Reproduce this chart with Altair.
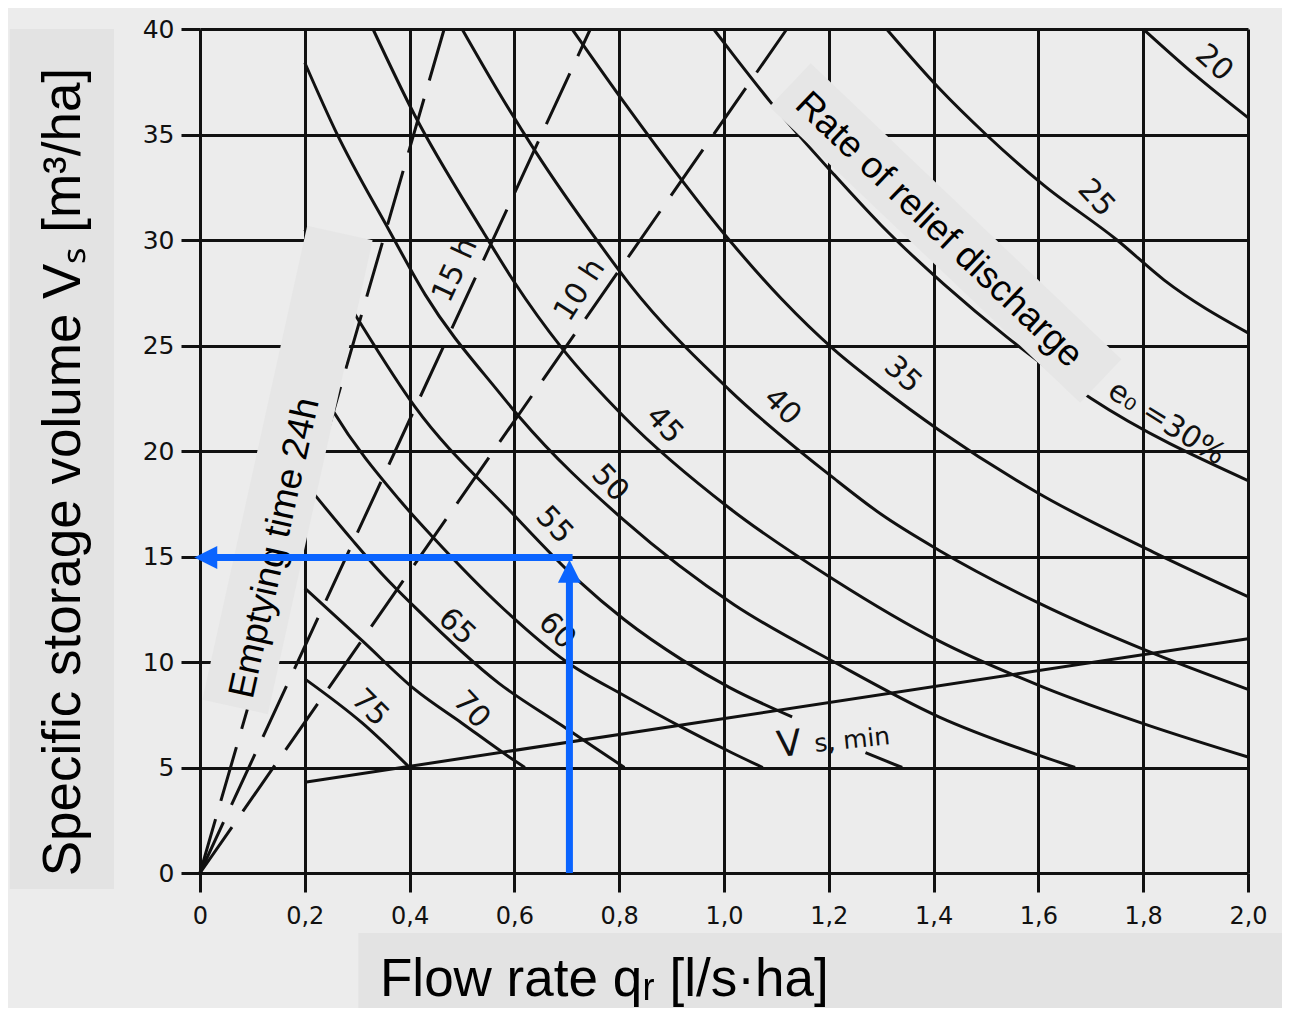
import json
import altair as alt
import pandas as pd

# ---------------- axes ----------------
x_ticks = [0, 0.2, 0.4, 0.6, 0.8, 1.0, 1.2, 1.4, 1.6, 1.8, 2.0]
x_tick_labels = ["0", "0,2", "0,4", "0,6", "0,8", "1,0", "1,2", "1,4", "1,6", "1,8", "2,0"]
y_ticks = [0, 5, 10, 15, 20, 25, 30, 35, 40]

# ---------------- rate of relief discharge curves (q_r, V_s) ----------------
q_e20 = [1.80, 1.90, 2.00]
v_e20 = [40.0, 37.8, 35.8]
q_e25 = [1.31, 1.41, 1.50, 1.61, 1.75, 1.84, 2.00]
v_e25 = [40.0, 37.2, 35.0, 32.6, 30.0, 28.1, 25.6]
q_e30 = [0.98, 1.02, 1.09, 1.21, 1.30, 1.42, 1.54, 1.70, 2.00]
v_e30 = [40.0, 38.7, 36.5, 33.1, 30.7, 27.9, 25.4, 22.5, 18.6]
q_e35 = [0.71, 0.81, 1.01, 1.11, 1.21, 1.30, 1.41, 1.60, 1.82, 2.00]
v_e35 = [40.0, 36.5, 30.0, 27.2, 24.8, 23.0, 21.0, 18.0, 15.2, 13.1]
q_e40 = [0.50, 0.57, 0.64, 0.76, 0.82, 1.01, 1.21, 1.30, 1.41, 1.60, 1.81, 2.00]
v_e40 = [40.0, 37.0, 34.2, 29.9, 27.9, 22.9, 18.7, 17.0, 15.3, 12.8, 10.5, 8.7]
q_e45 = [0.33, 0.41, 0.54, 0.60, 0.69, 0.81, 1.01, 1.21, 1.41, 1.61, 1.81, 2.00]
v_e45 = [40.0, 35.9, 30.4, 28.0, 24.9, 21.6, 17.3, 13.9, 11.0, 8.8, 7.0, 5.5]
q_e50 = [0.20, 0.26, 0.36, 0.43, 0.57, 0.61, 0.81, 1.02, 1.21, 1.41, 1.61, 1.67]
v_e50 = [38.4, 35.1, 30.5, 27.4, 22.8, 21.6, 16.7, 12.7, 10.0, 7.4, 5.5, 5.0]
q_e55a = [0.20, 0.305, 0.41, 0.59, 0.72, 0.81, 0.92, 1.01, 1.13]
v_e55a = [30.5, 26.1, 22.1, 17.2, 13.9, 12.0, 10.1, 8.8, 7.4]
q_e55b = [1.27, 1.34]
v_e55b = [5.7, 5.0]
q_e60 = [0.20, 0.254, 0.38, 0.445, 0.58, 0.70, 0.81, 0.92, 1.015, 1.074]
v_e60 = [24.3, 21.9, 17.7, 15.9, 12.5, 10.0, 8.4, 6.9, 5.7, 5.0]
q_e65 = [0.20, 0.29, 0.35, 0.41, 0.57, 0.69, 0.81]
v_e65 = [18.5, 15.8, 14.1, 12.6, 9.0, 7.0, 5.0]
q_e70 = [0.20, 0.31, 0.41, 0.50, 0.59, 0.62]
v_e70 = [13.5, 11.0, 8.7, 7.1, 5.5, 5.0]
q_e75 = [0.20, 0.31, 0.40]
v_e75 = [9.2, 7.1, 5.0]
q_vsmin = [0.20, 2.00]
v_vsmin = [4.3, 11.1]

# emptying time lines (dashed)
empty_names = ["24h", "15h", "10h"]
empty_q_top = [0.466, 0.745, 1.12]
empty_v_top = [40.0, 40.0, 40.0]

# curve labels
lab_text = ["20", "25", "35", "40", "45", "50", "55", "60", "65", "70", "75"]
lab_q = [1.935, 1.710, 1.341, 1.111, 0.886, 0.782, 0.676, 0.681, 0.490, 0.518, 0.324]
lab_v = [38.39, 31.99, 23.6, 22.09, 21.23, 18.48, 16.49, 11.47, 11.66, 7.73, 7.82]
lab_ang = [42, 47, 43, 45, 47, 47, 47, 45, 43, 47, 45]

hour_text = ["15 h", "10 h"]
hour_q = [0.487, 0.725]
hour_v = [28.58, 27.63]
hour_ang = [295, 303]

e30_text = ["e\u2080 =30%"]
e30_q = [1.845]
e30_v = [21.33]
e30_ang = [32]

# V s,min label
vmin_big_q = [1.103]
vmin_big_v = [5.50]
vmin_small_q = [1.174]
vmin_small_v = [5.73]

# annotation bands (rotated boxes behind overlay texts)
band_q1 = [0.267, 1.126]
band_v1 = [30.33, 37.35]
band_q2 = [0.067, 1.719]
band_v2 = [7.87, 23.32]
band_w = [67, 60]
band_text = ["Emptying time 24h", "Rate of relief discharge"]
band_text_q = [0.143, 1.410]
band_text_v = [15.40, 30.47]
band_text_ang = [282.5, 43.6]

# axis title boxes
tbox_q1 = [-0.363, 0.302]
tbox_q2 = [-0.164, 2.10]
tbox_v1 = [40.0, -2.84]
tbox_v2 = [-0.76, -6.8]

# worked example (blue arrows)
ex_q = 0.705
ex_v = 14.95

# ---------------- build tables ----------------
series = [("20", q_e20, v_e20), ("25", q_e25, v_e25), ("30", q_e30, v_e30),
          ("35", q_e35, v_e35), ("40", q_e40, v_e40), ("45", q_e45, v_e45),
          ("50", q_e50, v_e50), ("55a", q_e55a, v_e55a), ("55b", q_e55b, v_e55b),
          ("60", q_e60, v_e60), ("65", q_e65, v_e65), ("70", q_e70, v_e70),
          ("75", q_e75, v_e75), ("vsmin", q_vsmin, v_vsmin)]
rows = []
for name, qs, vs in series:
    for i, (q, v) in enumerate(zip(qs, vs)):
        rows.append({"seg": name, "q": q, "v": v, "o": i})
curves_df = pd.DataFrame(rows)

erows = []
for n, qt, vt in zip(empty_names, empty_q_top, empty_v_top):
    erows.append({"seg": n, "q": 0.0, "v": 0.0, "o": 0})
    erows.append({"seg": n, "q": qt, "v": vt, "o": 1})
empty_df = pd.DataFrame(erows)

labels_df = pd.DataFrame({"q": lab_q, "v": lab_v, "t": lab_text, "ang": lab_ang})
hours_df = pd.DataFrame({"q": hour_q, "v": hour_v, "t": hour_text, "ang": hour_ang})
e30_df = pd.DataFrame({"q": e30_q, "v": e30_v, "t": e30_text, "ang": e30_ang})
band_df = pd.DataFrame({"q": band_q1, "v": band_v1, "q2": band_q2, "v2": band_v2, "w": band_w})
band_text_df = pd.DataFrame({"q": band_text_q, "v": band_text_v, "t": band_text, "ang": band_text_ang})
tbox_df = pd.DataFrame({"q": tbox_q1, "q2": tbox_q2, "v": tbox_v1, "v2": tbox_v2})
vbig_df = pd.DataFrame({"q": vmin_big_q, "v": vmin_big_v, "t": ["V"]})
vsmall_df = pd.DataFrame({"q": vmin_small_q, "v": vmin_small_v, "t": ["s, min"]})

arrow_lines_df = pd.DataFrame({
    "q": [ex_q, ex_q + 0.006], "v": [0.0, ex_v],
    "q2": [ex_q, 0.03], "v2": [14.0, ex_v]})
head_up_df = pd.DataFrame({"q": [ex_q], "v": [14.3]})
head_left_df = pd.DataFrame({"q": [0.011], "v": [ex_v]})

ytitle_df = pd.DataFrame({"q": [-0.2595], "v": [19.0], "t": ["Specific storage volume V\u209b [m\u00b3/ha]"]})
xtitle_df = pd.DataFrame({"q": [0.3435], "v": [-5.85], "t": ["Flow rate q\u1d63 [l/s\u00b7ha]"]})

# ---------------- styling ----------------
BG = "#ececec"
INK = "#111111"
BLUE = "#0a64ff"
BOX = "#e3e3e3"
BAND = "#e6e6e6"

xs = alt.Scale(domain=[0, 2], nice=False, zero=False)
ys = alt.Scale(domain=[0, 40], nice=False, zero=False)

xaxis = alt.Axis(values=x_ticks, title="",
                 labelExpr=json.dumps(x_tick_labels) + "[round(datum.value * 5)]",
                 grid=True, gridColor=INK, gridWidth=3, gridOpacity=1,
                 domain=False, tickSize=19, tickWidth=3, tickColor=INK,
                 labelFont="DejaVu Sans", labelFontSize=24, labelColor="#111111",
                 labelPadding=12, labelFlush=False, labelOverlap=False)
yaxis = alt.Axis(values=y_ticks, title="", format="d",
                 grid=True, gridColor=INK, gridWidth=3, gridOpacity=1,
                 domain=False, tickSize=19, tickWidth=3, tickColor=INK,
                 labelFont="DejaVu Sans", labelFontSize=25, labelColor="#111111",
                 labelPadding=7, labelFlush=False, labelOverlap=False)


def X(f="q"):
    return alt.X(f, type="quantitative", scale=xs, axis=xaxis)


def Y(f="v"):
    return alt.Y(f, type="quantitative", scale=ys, axis=yaxis)


title_boxes = alt.Chart(tbox_df).mark_rect(color=BOX).encode(
    x=X(), x2=alt.X2("q2"), y=Y(), y2=alt.Y2("v2"))

curve_lines = alt.Chart(curves_df).mark_line(
    color=INK, strokeWidth=3, interpolate="monotone").encode(
    x=X(), y=Y(), detail="seg:N", order="o:Q")

empty_lines = alt.Chart(empty_df).mark_line(
    color=INK, strokeWidth=3, strokeDash=[56, 19]).encode(
    x=X(), y=Y(), detail="seg:N", order="o:Q")

curve_labels = alt.Chart(labels_df).mark_text(
    font="DejaVu Sans", fontSize=30, color=INK, align="center", baseline="middle").encode(
    x=X(), y=Y(), text="t:N", angle=alt.Angle("ang:Q", scale=None))

hour_labels = alt.Chart(hours_df).mark_text(
    font="DejaVu Sans", fontSize=30, color=INK, align="center", baseline="middle").encode(
    x=X(), y=Y(), text="t:N", angle=alt.Angle("ang:Q", scale=None))

e30_label = alt.Chart(e30_df).mark_text(
    font="DejaVu Sans", fontSize=30, color=INK, align="center", baseline="middle").encode(
    x=X(), y=Y(), text="t:N", angle=alt.Angle("ang:Q", scale=None))

vbig = alt.Chart(vbig_df).mark_text(
    font="DejaVu Sans", fontSize=36, color=INK, align="left", baseline="alphabetic", angle=354).encode(
    x=X(), y=Y(), text="t:N")
vsmall = alt.Chart(vsmall_df).mark_text(
    font="DejaVu Sans", fontSize=25, color=INK, align="left", baseline="alphabetic", angle=354).encode(
    x=X(), y=Y(), text="t:N")

bands = alt.Chart(band_df).mark_rule(color=BAND, strokeCap="butt").encode(
    x=X(), y=Y(), x2=alt.X2("q2"), y2=alt.Y2("v2"),
    strokeWidth=alt.StrokeWidth("w:Q", scale=None))

band_texts = alt.Chart(band_text_df).mark_text(
    font="Liberation Sans", fontSize=37, color="#000000", align="center", baseline="middle").encode(
    x=X(), y=Y(), text="t:N", angle=alt.Angle("ang:Q", scale=None))

arrow_lines = alt.Chart(arrow_lines_df).mark_rule(
    color=BLUE, strokeWidth=7, strokeCap="butt").encode(
    x=X(), y=Y(), x2=alt.X2("q2"), y2=alt.Y2("v2"))
head_up = alt.Chart(head_up_df).mark_point(
    shape="M0,-1L1,1L-1,1Z", size=529, filled=True, color=BLUE, opacity=1, strokeWidth=0).encode(
    x=X(), y=Y())
head_left = alt.Chart(head_left_df).mark_point(
    shape="M-1,0L1,-1L1,1Z", size=529, filled=True, color=BLUE, opacity=1, strokeWidth=0).encode(
    x=X(), y=Y())

ytitle = alt.Chart(ytitle_df).mark_text(
    font="Liberation Sans", fontSize=53, color="#000000", align="center", baseline="middle", angle=270).encode(
    x=X(), y=Y(), text="t:N")
xtitle = alt.Chart(xtitle_df).mark_text(
    font="Liberation Sans", fontSize=53, color="#000000", align="left", baseline="alphabetic").encode(
    x=X(), y=Y(), text="t:N")

chart = alt.layer(
    title_boxes, curve_lines, empty_lines, curve_labels, hour_labels, e30_label,
    vbig, vsmall, bands, band_texts, arrow_lines, head_up, head_left, ytitle, xtitle
).properties(
    width=1048, height=844, background=BG,
    padding={"left": 192, "top": 21, "right": 34, "bottom": 135},
    autosize=alt.AutoSizeParams(type="none")
).configure_view(strokeWidth=0)

chart.save("out.html", embed_options={"renderer": "svg", "actions": False})
